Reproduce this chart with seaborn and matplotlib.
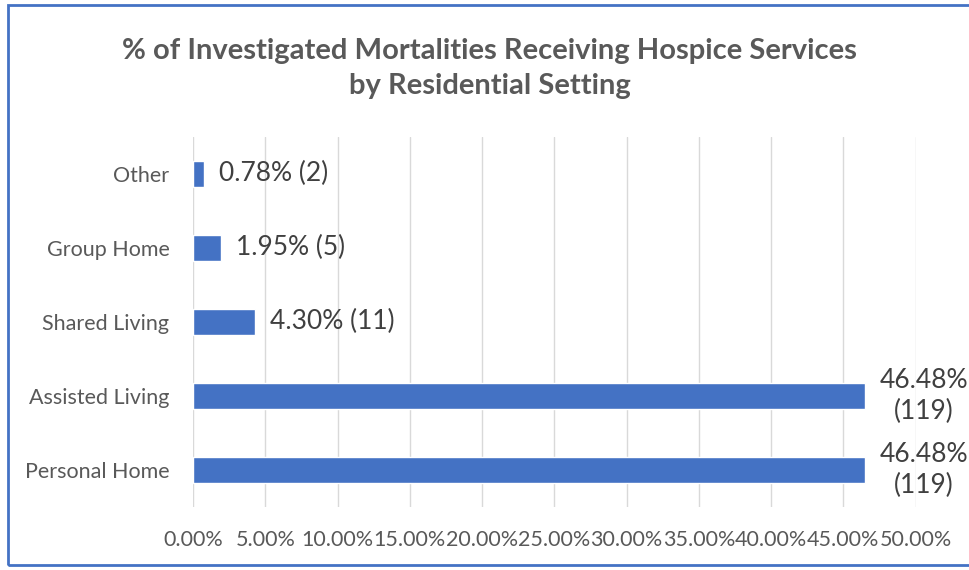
import matplotlib
matplotlib.use('Agg')
import matplotlib.pyplot as plt
import seaborn as sns
import pandas as pd
from matplotlib.patches import Rectangle
from matplotlib.ticker import FuncFormatter, MultipleLocator

# data
settings = ['Other', 'Group Home', 'Shared Living', 'Assisted Living', 'Personal Home']
percent = [0.78, 1.95, 4.30, 46.48, 46.48]
counts = [2, 5, 11, 119, 119]

df = pd.DataFrame({'Setting': settings, 'Percent': percent, 'Count': counts})

sns.set_style('white')
plt.rcParams['font.family'] = ['Lato', 'DejaVu Sans']

fig = plt.figure(figsize=(9.7, 5.7), dpi=100)
ax = fig.add_axes([0.199, 0.111, 0.745, 0.649])

sns.barplot(data=df, x='Percent', y='Setting', orient='h', color='#4472C4',
            width=0.35, saturation=1, ax=ax)

ax.set_xlim(0, 50)
ax.xaxis.set_major_locator(MultipleLocator(5))
ax.xaxis.set_major_formatter(FuncFormatter(lambda v, p: f'{v:.2f}%'))
ax.grid(axis='x', color='#D9D9D9', linewidth=1)
ax.set_axisbelow(True)
for s in ax.spines.values():
    s.set_visible(False)
ax.set_xlabel('')
ax.set_ylabel('')
ax.tick_params(axis='both', length=0, labelsize=15.5, labelcolor='#595959')
ax.tick_params(axis='x', pad=17)
ax.tick_params(axis='y', pad=17)

# data labels
for i, (p, c) in enumerate(zip(percent, counts)):
    if p > 40:
        txt = f'{p:.2f}%\n({c})'
    else:
        txt = f'{p:.2f}% ({c})'
    ax.text(p + 1.0, i, txt, va='center', ha='left', fontsize=19,
            color='#404040', linespacing=1.3, multialignment='center')

fig.text(0.505, 0.88, '% of Investigated Mortalities Receiving Hospice Services\nby Residential Setting',
         ha='center', va='center', fontsize=21, fontweight='bold', color='#595959',
         linespacing=1.45)

# chart border
fig.patches.append(Rectangle((8 / 970, 5 / 570), 1.0, 560 / 570, transform=fig.transFigure,
                             fill=False, edgecolor='#4472C4', linewidth=2))

fig.savefig('out.png', dpi=100)
